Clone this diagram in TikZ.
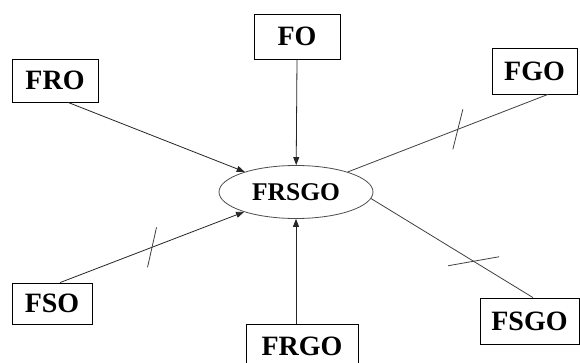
\documentclass[tikz,border=0pt]{standalone}
\usepackage{fontspec}
\setmainfont{Liberation Serif}
\usetikzlibrary{shapes.geometric,arrows.meta,calc}
\tikzset{
  boxnode/.style={draw=black, line width=0.8pt, inner sep=0pt, font=\bfseries\fontsize{28}{30}\selectfont},
  hubnode/.style={ellipse, draw=black!70, line width=0.8pt, inner sep=0pt, minimum width=154pt, minimum height=53pt, font=\bfseries\fontsize{25.5}{28}\selectfont},
  arr/.style={draw=black!85, line width=0.8pt, -{Triangle[length=8pt,width=6pt]}},
  plainline/.style={draw=black!75, line width=0.8pt},
  tick/.style={draw=black!75, line width=0.8pt}
}
\begin{document}
\begin{tikzpicture}[x=1pt,y=-1pt]
\useasboundingbox (0,0) rectangle (580,363);
\fill[white] (0,0) rectangle (580,363);
\node[hubnode] (E) at (296,192) {FRSGO};
\node[boxnode, minimum width=86pt, minimum height=43pt] (FRO) at (55,80.5) {FRO};
\node[boxnode, minimum width=86pt, minimum height=45pt] (FO) at (297,36.5) {FO};
\node[boxnode, minimum width=85pt, minimum height=46pt] (FGO) at (534.5,71) {FGO};
\node[boxnode, minimum width=80pt, minimum height=41pt] (FSO) at (52,303.5) {FSO};
\node[boxnode, minimum width=112pt, minimum height=44pt] (FRGO) at (302,346) {FRGO};
\node[boxnode, minimum width=99pt, minimum height=46pt] (FSGO) at (529.5,321) {FSGO};
% arrows into the hub
\draw[arr] ([xshift=13pt]FRO.south) -- (E);
\draw[arr] (FO.south) -- (E);
\draw[arr] ([xshift=8pt]FSO.north) -- (E) coordinate[pos=0.5] (ts);
\draw[arr] ([xshift=-6pt]FRGO.north) -- (E);
% plain lines with tick marks
\draw[plainline] ([xshift=13.5pt]FGO.south) -- (E) coordinate[pos=0.45] (tg);
\draw[plainline] (E.-5.5) -- ([xshift=3.5pt]FSGO.north) coordinate[pos=0.633] (tsg);
\draw[tick] ($(tg)+(5,-20)$) -- ($(tg)+(-5,20)$);
\draw[tick] ($(ts)+(4.5,-20)$) -- ($(ts)+(-4.5,20)$);
\draw[tick] ($(tsg)+(-25.5,4.5)$) -- ($(tsg)+(25.5,-4.5)$);
\end{tikzpicture}
\end{document}
